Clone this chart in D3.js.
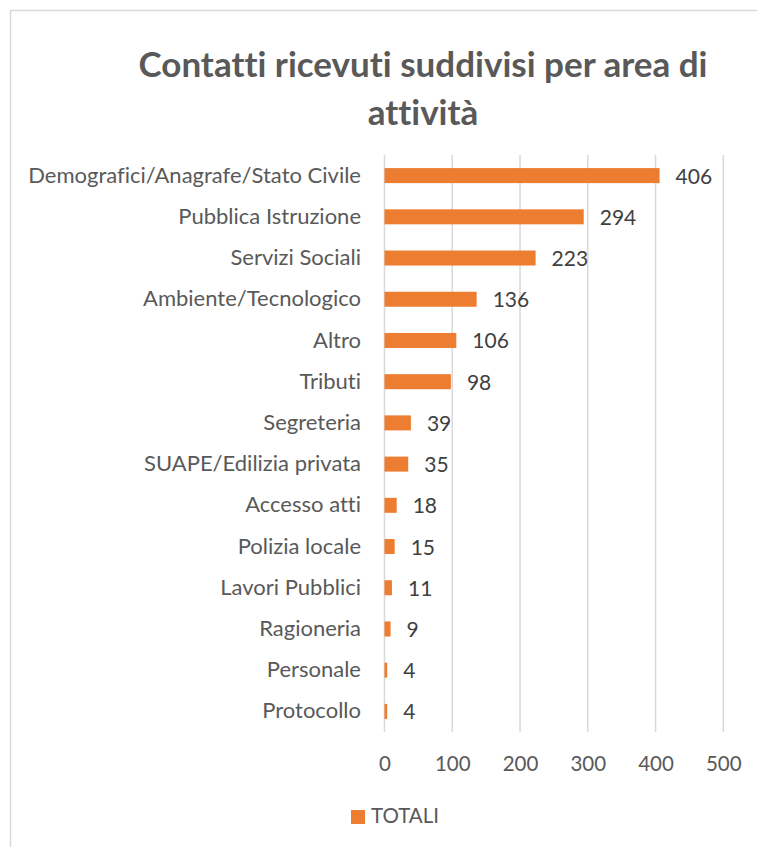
<!DOCTYPE html>
<html>
<head>
<meta charset="utf-8">
<script src="https://cdn.jsdelivr.net/npm/d3@7"></script>
<style>
  body { margin: 0; background: #fff; }
  svg { font-family: Lato, "Open Sans", sans-serif; font-variant-ligatures: none; }
</style>
</head>
<body>
<div id="chart"></div>
<script>
var categories = ["Demografici/Anagrafe/Stato Civile", "Pubblica Istruzione", "Servizi Sociali",
    "Ambiente/Tecnologico", "Altro", "Tributi", "Segreteria", "SUAPE/Edilizia privata",
    "Accesso atti", "Polizia locale", "Lavori Pubblici", "Ragioneria", "Personale", "Protocollo"];
var totali = [406, 294, 223, 136, 106, 98, 39, 35, 18, 15, 11, 9, 4, 4];
var xTicks = [0, 100, 200, 300, 400, 500];
var titleLines = ["Contatti ricevuti suddivisi per area di", "attività"];
var seriesName = "TOTALI";

var width = 757, height = 847;
var barColor = "#ED7D31";

var svg = d3.select("#chart").append("svg")
    .attr("width", width)
    .attr("height", height);

// chart border
svg.append("rect")
    .attr("x", 10.5).attr("y", 10.5)
    .attr("width", 826).attr("height", 860)
    .attr("fill", "none")
    .attr("stroke", "#D9D9D9")
    .attr("stroke-width", 1.5);

// title
svg.append("g")
    .selectAll("text")
    .data(titleLines)
    .enter().append("text")
    .attr("x", 423)
    .attr("y", function(d, i) { return 77 + i * 48; })
    .attr("text-anchor", "middle")
    .attr("font-size", "35px")
    .attr("font-weight", "bold")
    .attr("fill", "#595959")
    .text(function(d) { return d; });

var x = d3.scaleLinear()
    .domain([0, 500])
    .range([384.5, 723.3]);

var y = d3.scaleBand()
    .domain(categories)
    .range([155, 732])
    .paddingInner(0.636)
    .paddingOuter(0.318);

// gridlines
svg.append("g")
    .attr("class", "grid")
    .selectAll("line")
    .data(xTicks)
    .enter().append("line")
    .attr("x1", function(d) { return x(d); })
    .attr("x2", function(d) { return x(d); })
    .attr("y1", 155)
    .attr("y2", 732)
    .attr("stroke", "#D9D9D9")
    .attr("stroke-width", 1.5);

// x axis
var xAxis = d3.axisBottom(x).tickValues(xTicks).tickSize(0).tickPadding(0);
svg.append("g")
    .attr("transform", "translate(0,756)")
    .call(xAxis)
    .call(function(g) { g.select(".domain").remove(); })
    .selectAll("text")
    .attr("dy", "0.71em")
    .attr("font-size", "20.5px")
    .attr("font-family", "Lato, sans-serif")
    .attr("fill", "#595959");

// y axis labels
var yAxis = d3.axisLeft(y).tickSize(0).tickPadding(0);
svg.append("g")
    .attr("transform", "translate(361,0)")
    .call(yAxis)
    .call(function(g) { g.select(".domain").remove(); })
    .selectAll("text")
    .attr("font-size", "22px")
    .attr("font-family", "Lato, sans-serif")
    .attr("fill", "#595959");

// bars
svg.append("g")
    .selectAll("rect")
    .data(totali)
    .enter().append("rect")
    .attr("x", x(0))
    .attr("y", function(d, i) { return y(categories[i]); })
    .attr("width", function(d) { return x(d) - x(0); })
    .attr("height", y.bandwidth())
    .attr("fill", barColor);

// data labels
svg.append("g")
    .selectAll("text")
    .data(totali)
    .enter().append("text")
    .attr("x", function(d) { return x(d) + 16; })
    .attr("y", function(d, i) { return y(categories[i]) + y.bandwidth() / 2; })
    .attr("dy", "0.38em")
    .attr("font-size", "21px")
    .attr("fill", "#404040")
    .text(function(d) { return d; });

// legend
var legend = svg.append("g").attr("transform", "translate(351,810)");
legend.append("rect")
    .attr("width", 14).attr("height", 14)
    .attr("fill", barColor);
legend.append("text")
    .attr("x", 20).attr("y", 13)
    .attr("font-size", "20.5px")
    .attr("fill", "#595959")
    .text(seriesName);
</script>
</body>
</html>
